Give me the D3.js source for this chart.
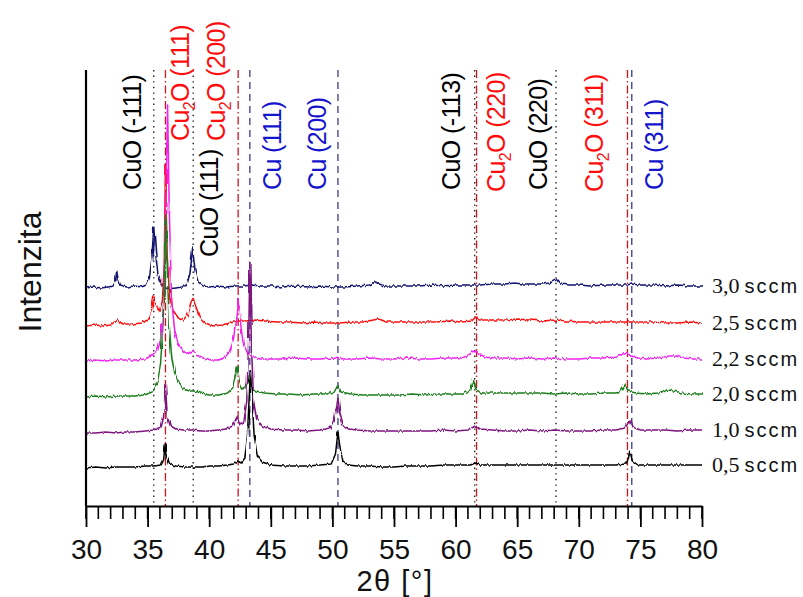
<!DOCTYPE html>
<html>
<head>
<meta charset="utf-8">
<script src="https://cdn.jsdelivr.net/npm/d3@7"></script>
<style>
  html, body { margin: 0; padding: 0; background: #fff; }
  svg { display: block; }
</style>
</head>
<body>
<svg id="chart" width="803" height="597"></svg>
<script>
// XRD patterns of Cu / Cu2O / CuO films grown at different O2 flows.
// Each pattern: [2θ (°), intensity above its own baseline (a.u.)]
const pattern30 = [[30,-1],[30.6,0],[31.2,-1],[31.8,0],[32.2,1],[32.4,6],[32.5,16],[32.6,8],[32.8,2],[33.3,0],[33.9,1],[34.5,0],[34.9,2],[35.15,9],[35.35,30],[35.5,60],[35.65,34],[35.85,12],[36.1,4],[36.4,-1],[36.8,-2],[37.3,-1],[37.8,0],[38.2,3],[38.45,14],[38.65,39],[38.85,16],[39.1,5],[39.5,1],[40,0],[40.7,1],[41.4,0],[42.1,1],[42.8,1],[43.5,2],[44.2,1],[45,1],[46,0],[47,1],[48,0],[49,1],[50,0],[51,0],[52,1],[53,2],[53.5,5],[53.8,3],[54.3,1],[55,1],[56,1],[57,1],[58,2],[59,1],[60,2],[61,2],[62,2],[63,3],[64,3],[64.8,4],[65.5,3],[66.3,3],[67,3],[67.7,4],[68.15,8],[68.5,3],[69.2,2],[70,2],[71,1],[72,2],[73,2],[74,2],[74.3,3],[75,2],[76,2],[77,1],[78,2],[79,1],[80,1]];
const pattern25 = [[30,-3],[30.7,-2],[31.4,-3],[32,-2],[32.5,3],[33,-1],[33.8,-1],[34.5,0],[35,3],[35.3,12],[35.5,27],[35.7,18],[35.95,12],[36.2,22],[36.35,60],[36.45,158],[36.58,70],[36.8,25],[37.1,12],[37.5,5],[37.9,3],[38.3,9],[38.5,20],[38.7,25],[38.9,16],[39.2,6],[39.7,0],[40.3,-3],[41,-2],[41.7,0],[42.3,2],[43,2],[43.6,3],[44.5,2],[45.5,1],[46.5,1],[47.5,0],[48.5,1],[49.5,0],[50.5,0],[51.5,1],[52.5,1],[53.7,4],[54.3,1],[55.5,1],[56.5,1],[57.5,1],[58.5,1],[59.5,2],[60.5,1],[61.3,2],[61.65,6],[62,3],[63,3],[64,3],[65,4],[66,3],[67,2],[68.1,3],[69,2],[70,1],[71,1],[72,1],[73,1],[74,1],[75,1],[76,1],[77,0],[78,0],[79,1],[80,0]];
const pattern22 = [[30,-2],[30.8,-1],[31.6,-2],[32.4,-1],[33.2,-1],[34,-1],[34.8,0],[35.3,3],[35.55,6],[35.8,9],[36.05,20],[36.3,55],[36.48,150],[36.62,254],[36.76,150],[36.95,60],[37.2,28],[37.5,14],[37.9,7],[38.3,5],[38.7,8],[39.1,4],[39.6,1],[40.2,-1],[40.8,-1],[41.3,2],[41.7,8],[42.0,22],[42.2,45],[42.33,61],[42.5,40],[42.75,16],[43.1,6],[43.5,2],[44.2,0],[45,0],[46,0],[47,1],[48,0],[49,0],[50,1],[51,0],[52,0],[53,1],[54,0],[55,0],[56,1],[57,0],[58,0],[59,1],[60,1],[60.8,2],[61.3,6],[61.6,9],[61.9,5],[62.4,2],[63,1],[64,1],[65,0],[66,1],[67,0],[68,1],[69,0],[70,0],[71,1],[72,1],[73,2],[73.5,4],[73.85,7],[74.2,3],[74.8,1],[75.5,0],[76.5,1],[77.3,3],[77.8,3],[78.5,1],[79.2,0],[80,0]];
const pattern20 = [[30,-3],[30.8,-2],[31.6,-3],[32.4,-2],[33.2,-2],[34,-2],[34.7,-1],[35.2,1],[35.5,5],[35.8,12],[36.05,30],[36.25,70],[36.4,130],[36.5,179],[36.6,125],[36.75,70],[36.95,38],[37.2,20],[37.5,11],[37.9,5],[38.4,3],[38.8,3],[39.3,1],[40,-1],[40.8,-1],[41.5,1],[41.9,6],[42.15,20],[42.28,27],[42.45,12],[42.7,5],[43.0,7],[43.25,14],[43.45,6],[43.8,3],[44.5,1],[45.5,0],[46.5,0],[47.5,-1],[48.5,0],[49.5,0],[50.15,2],[50.45,9],[50.7,2],[51.5,0],[52.5,-1],[53.5,-1],[54.5,-1],[55.5,-1],[56.5,0],[57.5,-1],[58.5,0],[59.5,0],[60.5,0],[61.2,3],[61.45,14],[61.65,4],[62.2,1],[63,1],[64,1],[65,1],[66,1],[67,1],[68,0],[69,1],[70,0],[71,0],[72,1],[73,1],[73.45,3],[73.75,9],[74.0,3],[74.6,1],[75.5,0],[76.5,1],[77.2,4],[77.7,3],[78.4,1],[79.2,0],[80,0]];
const pattern10 = [[30,-2],[30.8,-2],[31.6,-1],[32.4,-2],[33.2,-1],[34,-1],[34.8,0],[35.5,1],[36.1,4],[36.3,14],[36.45,46],[36.6,14],[36.85,5],[37.3,2],[37.9,1],[38.6,1],[39.3,0],[40,0],[40.7,1],[41.4,2],[41.9,5],[42.25,14],[42.5,6],[42.8,8],[43.05,30],[43.2,90],[43.3,168],[43.42,90],[43.6,30],[43.85,12],[44.3,5],[45,2],[46,1],[47,1],[48,0],[49,1],[49.8,3],[50.15,10],[50.32,22],[50.45,33],[50.6,18],[50.85,6],[51.3,2],[52,1],[53,0],[54,0],[55,0],[56,0],[57,0],[58,0],[59,1],[60,0],[61,1],[61.6,5],[62,2],[63,1],[64,0],[65,0],[66,1],[67,0],[68,1],[69,0],[70,0],[71,0],[72,1],[73,1],[73.7,3],[74.05,8],[74.2,12],[74.4,4],[75,1],[76,1],[77,1],[78,0],[79,1],[80,1]];
const pattern05 = [[30,-2],[30.8,-1],[31.6,-2],[32.4,-1],[33.2,-1],[34,-1],[34.8,0],[35.5,0],[36.1,1],[36.3,6],[36.42,22],[36.55,10],[36.8,2],[37.3,0],[38,-1],[38.7,-1],[39.4,-1],[40.1,0],[40.8,0],[41.5,1],[42.0,2],[42.3,5],[42.6,3],[42.9,8],[43.1,30],[43.25,70],[43.35,95],[43.47,70],[43.65,30],[43.9,10],[44.3,4],[45,1],[46,0],[47,0],[48,0],[49,1],[49.9,2],[50.25,12],[50.45,34],[50.6,20],[50.85,5],[51.3,1],[52,0],[53,0],[54,-1],[55,-1],[56,0],[57,0],[58,0],[59,1],[60,1],[61.2,1],[61.6,3],[62,1],[63,1],[64,1],[65,1],[66,1],[67,1],[68,1],[69,1],[70,1],[71,1],[72,1],[73,1],[73.8,2],[74.0,6],[74.15,15],[74.35,5],[74.8,1],[75.5,1],[76.5,1],[77.5,1],[78.5,1],[79.3,1],[80,1]];

// Sample names (O2 flow) and vertical stacking offsets (a.u.)
const flowLabels = ["0,5", "1,0", "2,0", "2,2", "2,5", "3,0"];
const stackOffsets = [0, 35, 72, 107, 143, 179];
const patterns = [pattern05, pattern10, pattern20, pattern22, pattern25, pattern30];
const traceColors = ["#000000", "#7d127d", "#1b7d1b", "#f020f0", "#ff1010", "#12126e"];
const drawOrder = [5, 4, 3, 2, 0, 1];

// Reference reflections (2θ) per phase
const phaseCuO = [35.5, 38.7, 61.55, 68.15];
const phaseCu2O = [36.45, 42.35, 61.7, 73.95];
const phaseCu = [43.3, 50.45, 74.3];

// Reflection labels: text parts, 2θ of the label's centre, intensity where the label starts
const reflLabels = [
  { phase: "CuO",  parts: ["CuO (-111)"],            at: 33.7,  from: 276 },
  { phase: "Cu2O", parts: ["Cu", "2", "O (111)"],    at: 37.63, from: 325 },
  { phase: "CuO",  parts: ["CuO (111)"],             at: 39.98, from: 209 },
  { phase: "Cu2O", parts: ["Cu", "2", "O (200)"],    at: 40.55, from: 325 },
  { phase: "Cu",   parts: ["Cu (111)"],              at: 45.1,  from: 276 },
  { phase: "Cu",   parts: ["Cu (200)"],              at: 48.75, from: 276 },
  { phase: "CuO",  parts: ["CuO (-113)"],            at: 59.63, from: 276 },
  { phase: "Cu2O", parts: ["Cu", "2", "O (220)"],    at: 63.28, from: 274 },
  { phase: "CuO",  parts: ["CuO (220)"],             at: 66.69, from: 276 },
  { phase: "Cu2O", parts: ["Cu", "2", "O (311)"],    at: 71.23, from: 274 },
  { phase: "Cu",   parts: ["Cu (311)"],              at: 76.1,  from: 276 }
];

const xMajorTicks = [30, 35, 40, 45, 50, 55, 60, 65, 70, 75, 80];
const xMinorTicks = d3.range(30, 81, 1);

const svg = d3.select("#chart");
const x = d3.scaleLinear().domain([30, 80]).range([86, 702]);
const y = d3.scaleLinear().domain([-40, 396]).range([506, 70]);

// Counting-noise texture for the detector traces
const defs = svg.append("defs");
const noise = defs.append("filter").attr("id", "counts")
  .attr("x", "-2%").attr("y", "-5%").attr("width", "104%").attr("height", "110%");
noise.append("feTurbulence").attr("type", "fractalNoise")
  .attr("baseFrequency", "0.45 0.03").attr("numOctaves", 2).attr("seed", 7).attr("result", "n");
noise.append("feDisplacementMap").attr("in", "SourceGraphic").attr("in2", "n")
  .attr("scale", 4).attr("xChannelSelector", "G").attr("yChannelSelector", "R");

const phaseStyle = {
  CuO:  { stroke: "#111", dash: "1.4,4.2", text: "#000" },
  Cu2O: { stroke: "#d0141c", dash: "8,3,1.5,3", text: "#ff0d0d" },
  Cu:   { stroke: "#3a3a8c", dash: "7,5", text: "#1414cc" }
};

// Reference reflection lines
const refLines = [].concat(
  phaseCuO.map(v => ({ v, phase: "CuO" })),
  phaseCu2O.map(v => ({ v, phase: "Cu2O" })),
  phaseCu.map(v => ({ v, phase: "Cu" }))
);
svg.append("g").selectAll("line").data(refLines).join("line")
  .attr("x1", d => x(d.v)).attr("x2", d => x(d.v))
  .attr("y1", y(396)).attr("y2", y(-40))
  .attr("stroke", d => phaseStyle[d.phase].stroke)
  .attr("stroke-width", 1.3)
  .attr("stroke-dasharray", d => phaseStyle[d.phase].dash);

// Patterns
const line = d3.line().x(d => x(d[0])).y(d => d[1]);
const gTraces = svg.append("g").attr("filter", "url(#counts)");
drawOrder.forEach(i => {
  const pts = patterns[i].map(p => [p[0], y(p[1] + stackOffsets[i])]);
  gTraces.append("path")
    .attr("d", line(pts))
    .attr("fill", "none")
    .attr("stroke", traceColors[i])
    .attr("stroke-width", 1.5)
    .attr("stroke-linejoin", "round");
});

// Flow labels on the right
const gFlow = svg.append("g");
flowLabels.forEach((lab, i) => {
  const yy = y(stackOffsets[i] + patterns[i][patterns[i].length - 1][1]);
  const t = gFlow.append("text")
    .attr("x", 712).attr("y", yy + 7)
    .attr("fill", "#111");
  t.append("tspan").attr("font-family", "'Liberation Serif', 'Times New Roman', serif")
    .attr("font-size", 22).text(lab);
  t.append("tspan").attr("font-family", "'Liberation Sans', Arial, sans-serif")
    .attr("font-size", 20).attr("letter-spacing", 2).attr("dx", 5).text("sccm");
});

// Reflection labels (rotated)
const gLab = svg.append("g")
  .attr("font-family", "'Liberation Sans', Arial, sans-serif")
  .attr("font-size", 25).attr("letter-spacing", -0.6);
reflLabels.forEach(l => {
  const t = gLab.append("text")
    .attr("transform", `translate(${x(l.at)},${y(l.from)}) rotate(-90)`)
    .attr("dy", "0.36em")
    .attr("fill", phaseStyle[l.phase].text);
  if (l.parts.length === 1) {
    t.text(l.parts[0]);
  } else {
    t.append("tspan").text(l.parts[0]);
    t.append("tspan").attr("font-size", 16).attr("dy", 6).text(l.parts[1]);
    t.append("tspan").attr("dy", -6).text(l.parts[2]);
  }
});

// Axes
const gx = svg.append("g").attr("transform", `translate(0,${y(-40)})`);
gx.selectAll("line.minor").data(xMinorTicks).join("line")
  .attr("class", "minor")
  .attr("x1", d => x(d)).attr("x2", d => x(d))
  .attr("y1", 0).attr("y2", 13)
  .attr("stroke", "#000").attr("stroke-width", 1.6);
gx.call(d3.axisBottom(x).tickValues(xMajorTicks).tickSize(21).tickSizeOuter(0).tickPadding(12))
  .call(g => g.select(".domain").attr("stroke-width", 2.2))
  .call(g => g.selectAll(".tick line").attr("stroke-width", 1.8))
  .call(g => g.selectAll(".tick text")
    .attr("font-family", "'Liberation Sans Narrow', 'Arial Narrow', 'Liberation Sans', Arial, sans-serif")
    .attr("font-size", 28).attr("fill", "#111"));

svg.append("line")
  .attr("x1", x(30)).attr("x2", x(30))
  .attr("y1", y(396)).attr("y2", y(-40))
  .attr("stroke", "#000").attr("stroke-width", 2.2);

svg.append("text")
  .attr("x", 395).attr("y", 591)
  .attr("text-anchor", "middle")
  .attr("font-family", "'Liberation Sans', Arial, sans-serif")
  .attr("font-size", 29).attr("letter-spacing", 1.5).attr("fill", "#111")
  .text("2θ [°]");

svg.append("text")
  .attr("transform", "translate(41,272) rotate(-90)")
  .attr("text-anchor", "middle")
  .attr("font-family", "'Liberation Sans', Arial, sans-serif")
  .attr("font-size", 32).attr("fill", "#111")
  .text("Intenzita");
</script>
</body>
</html>
